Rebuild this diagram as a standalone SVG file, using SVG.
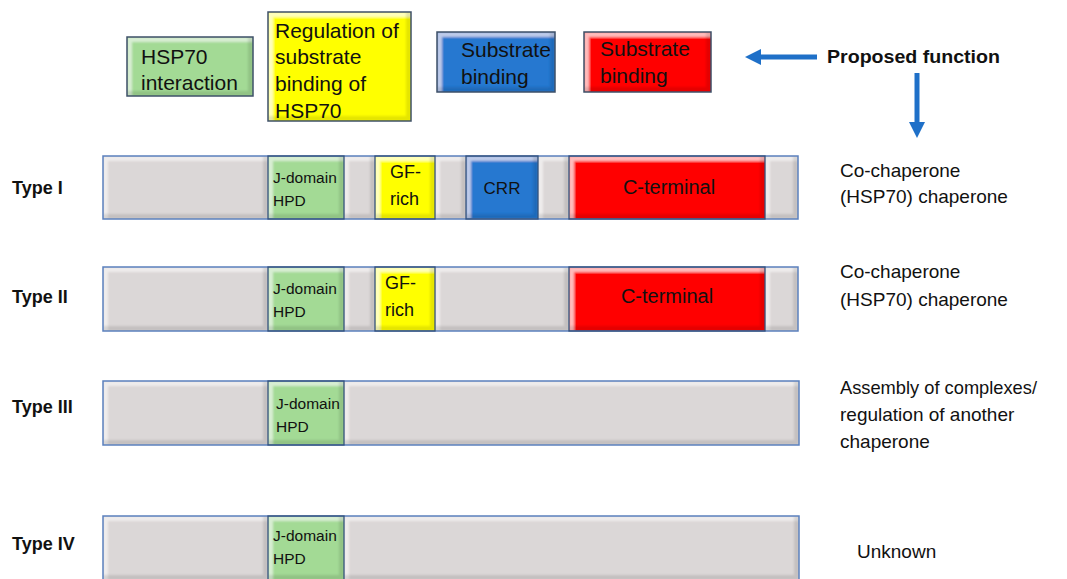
<svg xmlns="http://www.w3.org/2000/svg" width="1067" height="579" viewBox="0 0 1067 579">
<defs>
<filter id="bev" x="0" y="0" width="1" height="1">
 <feOffset in="SourceAlpha" dx="5" dy="5" result="o1"/>
 <feComposite in="SourceAlpha" in2="o1" operator="out" result="tl"/>
 <feOffset in="SourceAlpha" dx="-5" dy="-5" result="o2"/>
 <feComposite in="SourceAlpha" in2="o2" operator="out" result="br"/>
 <feFlood flood-color="#ffffff" flood-opacity="0.5"/>
 <feComposite in2="tl" operator="in"/>
 <feGaussianBlur stdDeviation="1.2" result="hl"/>
 <feFlood flood-color="#000000" flood-opacity="0.22"/>
 <feComposite in2="br" operator="in"/>
 <feGaussianBlur stdDeviation="1.2" result="sd"/>
 <feMerge><feMergeNode in="SourceGraphic"/><feMergeNode in="hl"/><feMergeNode in="sd"/></feMerge>
</filter>
<marker id="ah" viewBox="0 0 16 16" refX="9" refY="8" markerWidth="16" markerHeight="16" markerUnits="userSpaceOnUse" orient="auto">
 <path d="M0,0 L16,8 L0,16 z" fill="#1f70c8"/>
</marker>
<style>
 .f{filter:url(#bev)}
 .gy{fill:#dbd7d7}
 .gr{fill:#a3da95}
 .ye{fill:#ffff00}
 .bl{fill:#2878d0}
 .rd{fill:#ff0000}
 .e{fill:none;stroke:#34527c;stroke-width:1.3}
 .ob{fill:none;stroke:#5b80bd;stroke-width:1.5}
 .le{fill:none;stroke:#3e5068;stroke-width:1.5}
 text{font-family:"Liberation Sans",Arial,sans-serif;fill:#111}
 .lg{font-size:21px}
 .rt{font-size:19px}
 .tl{font-size:18px;font-weight:bold}
 .jd{font-size:15.5px}
 .gf{font-size:18px}
 .arr{stroke:#1f70c8;stroke-width:5;fill:none;marker-end:url(#ah)}
</style>
</defs>
<rect width="1067" height="579" fill="#ffffff"/>

<g id="legend-hsp70">
 <rect class="gr f" x="127" y="37" width="126" height="59"/>
 <rect class="le" x="127" y="37" width="126" height="59"/>
 <text class="lg" x="141" y="64">HSP70</text>
 <text class="lg" x="141" y="90">interaction</text>
</g>
<g id="legend-regulation">
 <rect class="ye f" x="268" y="12" width="143" height="109"/>
 <rect class="le" x="268" y="12" width="143" height="109"/>
 <text class="lg" x="275" y="38">Regulation of</text>
 <text class="lg" x="275" y="64">substrate</text>
 <text class="lg" x="275" y="91">binding of</text>
 <text class="lg" x="275" y="118">HSP70</text>
</g>
<g id="legend-substrate-blue">
 <rect class="bl f" x="437" y="32" width="118" height="60"/>
 <rect class="le" x="437" y="32" width="118" height="60"/>
 <text class="lg" x="461" y="57">Substrate</text>
 <text class="lg" x="461" y="84">binding</text>
</g>
<g id="legend-substrate-red">
 <rect class="rd f" x="584" y="32" width="127" height="60"/>
 <rect class="le" x="584" y="32" width="127" height="60"/>
 <text class="lg" x="600" y="56">Substrate</text>
 <text class="lg" x="600" y="83">binding</text>
</g>
<g id="proposed-function">
 <text x="827" y="63" style="font-size:18.5px;font-weight:bold" textLength="173" lengthAdjust="spacingAndGlyphs">Proposed function</text>
</g>

<g id="connectors">
 <line class="arr" x1="817" y1="57" x2="752" y2="57"/>
 <line class="arr" x1="917" y1="73" x2="917" y2="131"/>
</g>

<g id="type-1">
 <text class="tl" x="12" y="194">Type I</text>
 <rect class="gy f" x="103" y="156" width="165" height="63"/>
 <rect class="gr f" x="268" y="156" width="76" height="63"/>
 <rect class="gy f" x="344" y="156" width="31" height="63"/>
 <rect class="ye f" x="375" y="156" width="60" height="63"/>
 <rect class="gy f" x="435" y="156" width="31" height="63"/>
 <rect class="bl f" x="466" y="156" width="72" height="63"/>
 <rect class="gy f" x="538" y="156" width="31" height="63"/>
 <rect class="rd f" x="569" y="156" width="196" height="63"/>
 <rect class="gy f" x="765" y="156" width="33" height="63"/>
 <rect class="ob" x="103" y="156" width="695" height="63"/>
 <rect class="e" x="268" y="156" width="76" height="63"/>
 <rect class="e" x="375" y="156" width="60" height="63"/>
 <rect class="e" x="466" y="156" width="72" height="63"/>
 <rect class="e" x="569" y="156" width="196" height="63"/>
 <text class="jd" x="273" y="183">J-domain</text>
 <text class="jd" x="273" y="206">HPD</text>
 <text class="gf" x="390" y="178">GF-</text>
 <text class="gf" x="390" y="205">rich</text>
 <text x="502" y="194" text-anchor="middle" style="font-size:17px">CRR</text>
 <text x="669" y="194" text-anchor="middle" style="font-size:20px">C-terminal</text>
 <text class="rt" x="840" y="177">Co-chaperone</text>
 <text class="rt" x="840" y="203">(HSP70) chaperone</text>
</g>

<g id="type-2">
 <text class="tl" x="12" y="303">Type II</text>
 <rect class="gy f" x="103" y="267" width="165" height="64"/>
 <rect class="gr f" x="268" y="267" width="76" height="64"/>
 <rect class="gy f" x="344" y="267" width="31" height="64"/>
 <rect class="ye f" x="375" y="267" width="60" height="64"/>
 <rect class="gy f" x="435" y="267" width="134" height="64"/>
 <rect class="rd f" x="569" y="267" width="196" height="64"/>
 <rect class="gy f" x="765" y="267" width="33" height="64"/>
 <rect class="ob" x="103" y="267" width="695" height="64"/>
 <rect class="e" x="268" y="267" width="76" height="64"/>
 <rect class="e" x="375" y="267" width="60" height="64"/>
 <rect class="e" x="569" y="267" width="196" height="64"/>
 <text class="jd" x="273" y="294">J-domain</text>
 <text class="jd" x="273" y="317">HPD</text>
 <text class="gf" x="385" y="289">GF-</text>
 <text class="gf" x="385" y="316">rich</text>
 <text x="667" y="303" text-anchor="middle" style="font-size:20px">C-terminal</text>
 <text class="rt" x="840" y="278">Co-chaperone</text>
 <text class="rt" x="840" y="306">(HSP70) chaperone</text>
</g>

<g id="type-3">
 <text class="tl" x="12" y="413">Type III</text>
 <rect class="gy f" x="103" y="381" width="165" height="64"/>
 <rect class="gr f" x="268" y="381" width="76" height="64"/>
 <rect class="gy f" x="344" y="381" width="455" height="64"/>
 <rect class="ob" x="103" y="381" width="696" height="64"/>
 <rect class="e" x="268" y="381" width="76" height="64"/>
 <text class="jd" x="276" y="409">J-domain</text>
 <text class="jd" x="276" y="432">HPD</text>
 <text class="rt" x="840" y="394" textLength="197" lengthAdjust="spacingAndGlyphs">Assembly of complexes/</text>
 <text class="rt" x="840" y="421">regulation of another</text>
 <text class="rt" x="840" y="448">chaperone</text>
</g>

<g id="type-4">
 <text class="tl" x="12" y="550">Type IV</text>
 <rect class="gy f" x="103" y="516" width="165" height="64"/>
 <rect class="gr f" x="268" y="516" width="76" height="64"/>
 <rect class="gy f" x="344" y="516" width="455" height="64"/>
 <rect class="ob" x="103" y="516" width="696" height="64"/>
 <rect class="e" x="268" y="516" width="76" height="64"/>
 <text class="jd" x="273" y="541">J-domain</text>
 <text class="jd" x="273" y="564">HPD</text>
 <text class="rt" x="857" y="558">Unknown</text>
</g>
</svg>
